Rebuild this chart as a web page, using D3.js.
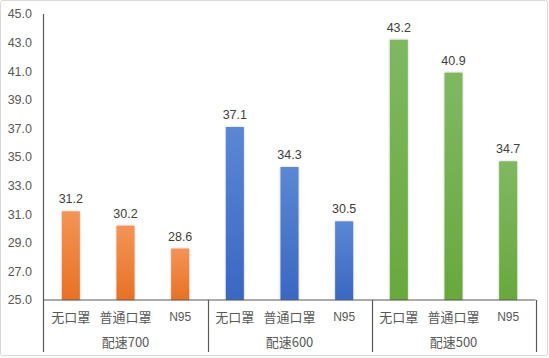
<!DOCTYPE html>
<html><head><meta charset="utf-8">
<script src="https://cdn.jsdelivr.net/npm/d3@7"></script>
<style>body{margin:0;background:#fff}svg{display:block}</style>
</head><body>
<script>
const groups = ["配速700", "配速600", "配速500"];
const masks = ["无口罩", "普通口罩", "N95"];
const values700 = [31.2, 30.2, 28.6];
const values600 = [37.1, 34.3, 30.5];
const values500 = [43.2, 40.9, 34.7];
const yTicks = [25, 27, 29, 31, 33, 35, 37, 39, 41, 43, 45];
const seriesValues = [values700, values600, values500];
const colors = [["#f39457", "#e87125"], ["#5b87d4", "#3a67c2"], ["#80b862", "#69a83d"]];

const W = 549, H = 358;
const svg = d3.select("body").append("svg").attr("width", W).attr("height", H);
svg.append("rect").attr("x", 0.5).attr("y", 0.5).attr("width", W - 2).attr("height", H - 3)
  .attr("fill", "#fff").attr("stroke", "#d9d9d9").attr("rx", 2);

const x0 = 43.5, x1 = 535.5, yTop = 14, yBot = 300;
const y = d3.scaleLinear().domain([25, 45]).range([yBot, yTop]);
const gx = d3.scaleBand().domain(groups).range([x0, x1]).padding(0);
const cx = d3.scaleBand().domain(masks).range([0, gx.bandwidth()]).paddingInner(0.67).paddingOuter(0.335);

const defs = svg.append("defs");
colors.forEach((c, i) => {
  const g = defs.append("linearGradient").attr("id", "g" + i).attr("x1", 0).attr("y1", 0).attr("x2", 0).attr("y2", 1);
  g.append("stop").attr("offset", "0%").attr("stop-color", c[0]);
  g.append("stop").attr("offset", "100%").attr("stop-color", c[1]);
});
const f = defs.append("filter").attr("id", "sh").attr("x", "-50%").attr("y", "-10%").attr("width", "200%").attr("height", "120%");
f.append("feDropShadow").attr("dx", 0).attr("dy", 0).attr("stdDeviation", 0.8).attr("flood-color", "#000").attr("flood-opacity", 0.25);

const numFont = "'Liberation Sans', Arial, sans-serif";
const cjkFont = "'Noto Sans CJK SC', sans-serif";
const txt = "#595959";

// y axis labels
svg.append("g").selectAll("text").data(yTicks).join("text")
  .attr("x", 32).attr("y", d => y(d)).attr("dy", "0.35em").attr("text-anchor", "end")
  .attr("font-family", numFont).attr("font-size", 12.5).attr("fill", txt)
  .text(d => d3.format(".1f")(d));

// bars
groups.forEach((gname, gi) => {
  const g = svg.append("g").attr("transform", `translate(${gx(gname)},0)`);
  g.selectAll("rect").data(seriesValues[gi]).join("rect")
    .attr("x", (d, i) => cx(masks[i])).attr("width", cx.bandwidth())
    .attr("y", d => y(d)).attr("height", d => yBot - y(d))
    .attr("fill", `url(#g${gi})`).attr("filter", "url(#sh)");
  g.selectAll("text.v").data(seriesValues[gi]).join("text").attr("class", "v")
    .attr("x", (d, i) => cx(masks[i]) + cx.bandwidth() / 2).attr("y", d => y(d) - 8)
    .attr("text-anchor", "middle").attr("font-family", numFont).attr("font-size", 12.5).attr("fill", "#404040")
    .text(d => d3.format(".1f")(d));
  g.selectAll("text.c").data(masks).join("text").attr("class", "c")
    .attr("x", d => cx(d) + cx.bandwidth() / 2).attr("y", 317).attr("dy", "0.35em")
    .attr("text-anchor", "middle").attr("font-family", d => d === "N95" ? numFont : cjkFont)
    .attr("font-size", d => d === "N95" ? 12 : 13).attr("fill", txt).text(d => d);
  g.append("text").attr("x", gx.bandwidth() / 2).attr("y", 342).attr("dy", "0.35em")
    .attr("text-anchor", "middle").attr("font-family", cjkFont).attr("font-size", 13).attr("fill", txt).text(gname);
});

// axes lines
const ax = svg.append("g").attr("stroke", "#595959").attr("stroke-width", 1.2);
ax.append("line").attr("x1", x0).attr("x2", x0).attr("y1", yTop).attr("y2", 352);
ax.append("line").attr("x1", x0).attr("x2", x1).attr("y1", yBot).attr("y2", yBot);
groups.forEach(gname => {
  const xe = Math.round(gx(gname) + gx.bandwidth()) + 0.5;
  ax.append("line").attr("x1", xe).attr("x2", xe).attr("y1", yBot).attr("y2", 352);
});
</script>
</body></html>
